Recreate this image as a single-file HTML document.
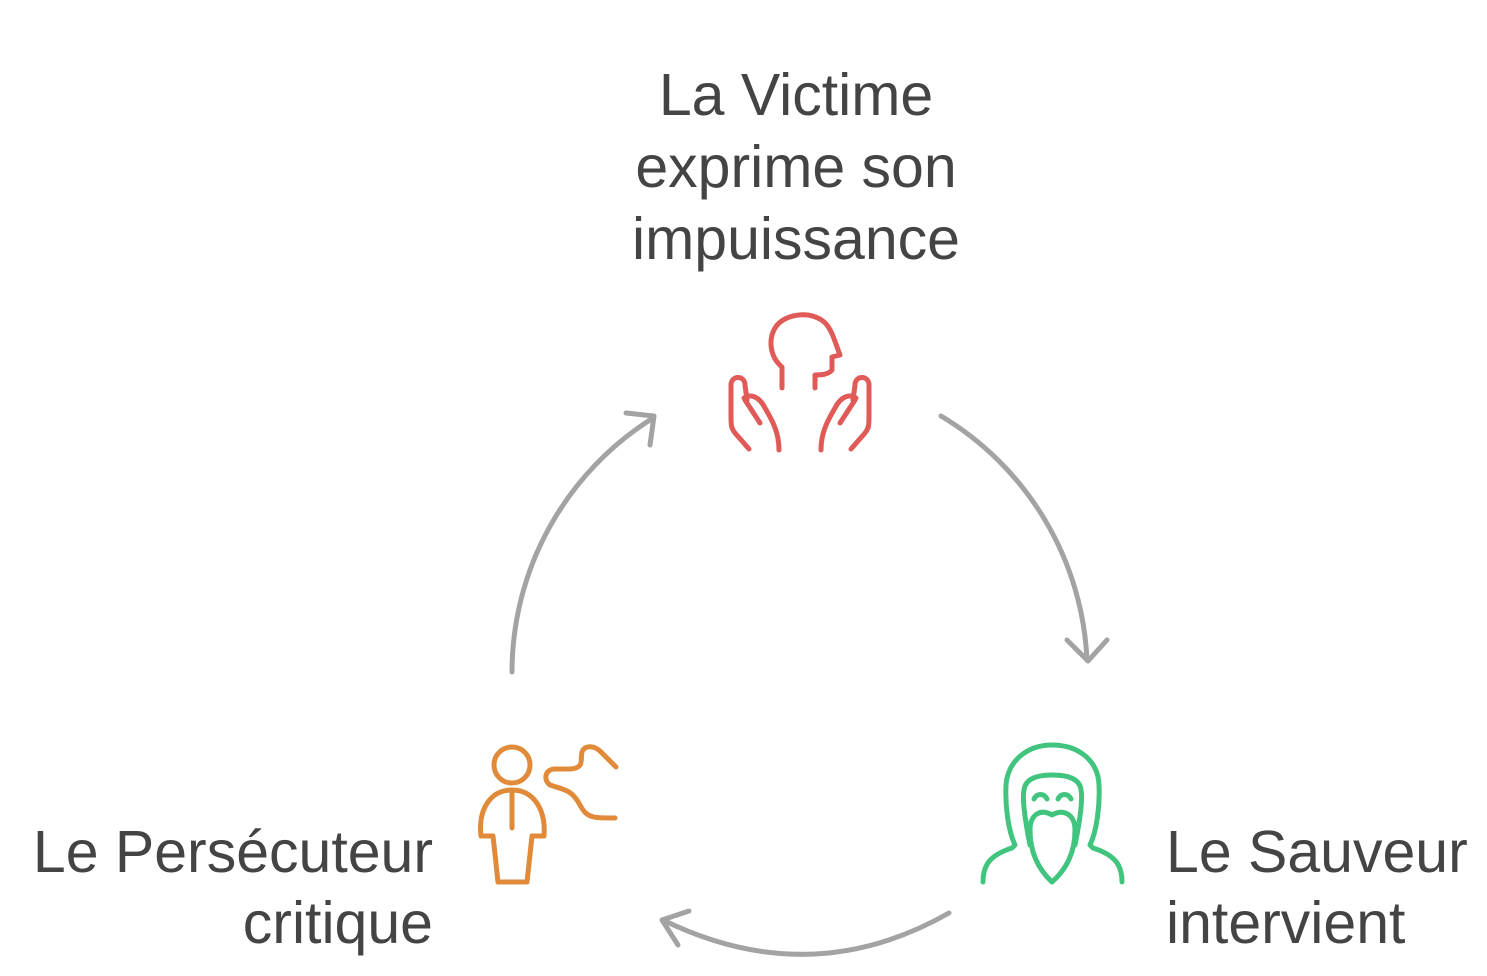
<!DOCTYPE html>
<html><head><meta charset="utf-8"><style>
html,body{margin:0;padding:0;background:#fff;}
svg{display:block}
text{font-family:"Liberation Sans",sans-serif;font-size:59px;fill:#444;}
</style></head><body>
<svg width="1487" height="976" viewBox="0 0 1487 976" xmlns="http://www.w3.org/2000/svg">
<g text-anchor="middle">
<text x="796" y="115">La Victime</text>
<text x="796" y="187">exprime son</text>
<text x="796" y="259">impuissance</text>
</g>
<g text-anchor="end">
<text x="433" y="872">Le Persécuteur</text>
<text x="433" y="943">critique</text>
</g>
<g text-anchor="start">
<text x="1166" y="872">Le Sauveur</text>
<text x="1166" y="943">intervient</text>
</g>
<g fill="none" stroke="#a3a3a3" stroke-width="5" stroke-linecap="round" stroke-linejoin="round">
<path d="M512 672 A300 300 0 0 1 653 418"/>
<path d="M626 413 L654 416 L650 445"/>
<path d="M941 416 A300 300 0 0 1 1087 660"/>
<path d="M1067 640 L1088 661 L1107 640"/>
<path d="M949 913 Q810 992 663 920"/>
<path d="M689 911 L662 920 L678 945"/>
</g>
<g fill="none" stroke="#e05a57" stroke-width="5" stroke-linecap="round" stroke-linejoin="round">
<path d="M782 388 L782 367 C770 357 768 340 775 328 C785 312 815 310 827 325 C833 333 836 345 840 355 L832 357 L832 370 C828 375 820 375 815 375 L815 388"/>
<path d="M749 449 L735 433 C731 428 731 425 731 415 L731 385 C731 375 745 375 745 385 L747 400 M744 398 C752 393 760 398 765 408 C772 420 779 432 779 450 M745 400 L760 423"/>
<path d="M851 449 L865 433 C869 428 869 425 869 415 L869 385 C869 375 855 375 855 385 L853 400 M856 398 C848 393 840 398 835 408 C828 420 821 432 821 450 M855 400 L840 423"/>
</g>
<g fill="none" stroke="#40c47e" stroke-width="5" stroke-linecap="round" stroke-linejoin="round">
<path d="M983 882 C983 865 990 855 1012 848 L1015 845 C1008 830 1005 805 1006 785 C1008 760 1028 745 1052 745 C1078 745 1098 760 1099 785 C1100 805 1097 830 1090 845 L1093 848 C1115 855 1122 865 1122 882"/>
<path d="M1030 845 C1025 820 1022 800 1024 790 C1025 780 1035 775 1052 775 C1070 775 1080 780 1081 790 C1083 800 1080 820 1075 845"/>
<path d="M1030 830 C1030 815 1040 808 1052 815 C1064 808 1075 815 1075 830 C1075 850 1068 868 1052 882 C1037 868 1030 850 1030 830 Z"/>
<path d="M1034 799 C1037 793 1044 793 1047 799 M1058 799 C1061 793 1068 793 1071 799"/>
</g>
<g fill="none" stroke="#e08a3a" stroke-width="5" stroke-linecap="round" stroke-linejoin="round">
<circle cx="512" cy="765" r="18"/>
<path d="M512 790 L512 828"/>
<path d="M498 882 L493 836 L481 836 C478 810 490 790 512 790 C534 790 546 810 544 836 L532 836 L527 882 Z"/>
<path d="M616 767 L601 752 C595 746 585 744 582 752 C580 760 585 768 570 769 L555 769 C545 769 543 780 550 785 C565 790 572 790 580 805 C587 818 592 818 615 818"/>
</g>
</svg>
</body></html>
